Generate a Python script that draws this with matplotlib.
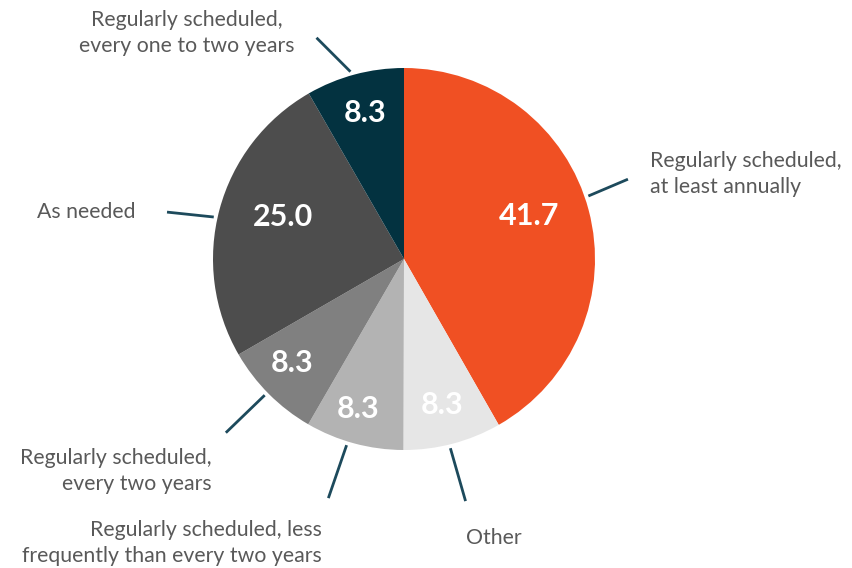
import numpy as np
import matplotlib.pyplot as plt

# =========================
# DATA
# =========================

categories = [
    "Regularly scheduled,\nat least annually",
    "Other",
    "Regularly scheduled, less\nfrequently than every two years",
    "Regularly scheduled,\nevery two years",
    "As needed",
    "Regularly scheduled,\nevery one to two years",
]
values = [41.7, 8.3, 8.3, 8.3, 25.0, 8.3]
value_labels = ["41.7", "8.3", "8.3", "8.3", "25.0", "8.3"]

# =========================
# STYLE
# =========================

colors = ["#f05023", "#e6e6e6", "#b3b3b3", "#808080", "#4d4d4d", "#033240"]
# value labels: radius fraction and angle shift from slice middle (deg)
label_radius = [0.69, 0.79, 0.82, 0.80, 0.67, 0.79]
label_shift = [4, 0, -2, -2, -4, 0]
# leader lines: start-angle shift, direction (deg), length (px)
line_shift = [4, -1, -2, -0.6, 2.6, 1]
line_dir = [23, -74, -109, -136, 174, 135]
line_len = [43, 55, 56, 54, 47, 48]

LINE_COLOR = "#1d4a5c"
TEXT_COLOR = "#595959"
FONT = ["Lato", "DejaVu Sans"]

W, H = 853, 568
CX, CY = 404, H - 259
R = 191

# text placement (x, y in pixels from top-left), alignment
text_pos = [
    (650, 174, "left"),
    (466, 538, "left"),
    (322, 543, "right"),
    (212, 471, "right"),
    (136, 212, "right"),
    (187, 33, "center"),
]

fig = plt.figure(figsize=(W / 100, H / 100), dpi=100)
ax = fig.add_axes([0, 0, 1, 1])

wedges, _ = ax.pie(
    values,
    colors=colors,
    startangle=90,
    counterclock=False,
    center=(CX, CY),
    radius=R,
    wedgeprops={"linewidth": 0},
)
ax.set_xlim(0, W)
ax.set_ylim(0, H)
ax.set_aspect("equal")
ax.axis("off")

for i, w in enumerate(wedges):
    mid = (w.theta1 + w.theta2) / 2
    # value inside slice
    a = np.deg2rad(mid + label_shift[i])
    rl = R * label_radius[i]
    ax.text(CX + rl * np.cos(a), CY + rl * np.sin(a), value_labels[i],
            ha="center", va="center", color="white", fontsize=22,
            fontweight="bold", family=FONT)
    # leader line
    a = np.deg2rad(mid + line_shift[i])
    d = np.deg2rad(line_dir[i])
    x0, y0 = CX + R * 1.02 * np.cos(a), CY + R * 1.02 * np.sin(a)
    ax.plot([x0, x0 + line_len[i] * np.cos(d)],
            [y0, y0 + line_len[i] * np.sin(d)],
            color=LINE_COLOR, linewidth=2, solid_capstyle="butt")
    # category text
    tx, ty, ha = text_pos[i]
    ax.text(tx, H - ty, categories[i], ha=ha, va="center", color=TEXT_COLOR,
            fontsize=15.3, family=FONT, linespacing=1.33,
            multialignment=ha)

fig.savefig("out.png", dpi=100)
